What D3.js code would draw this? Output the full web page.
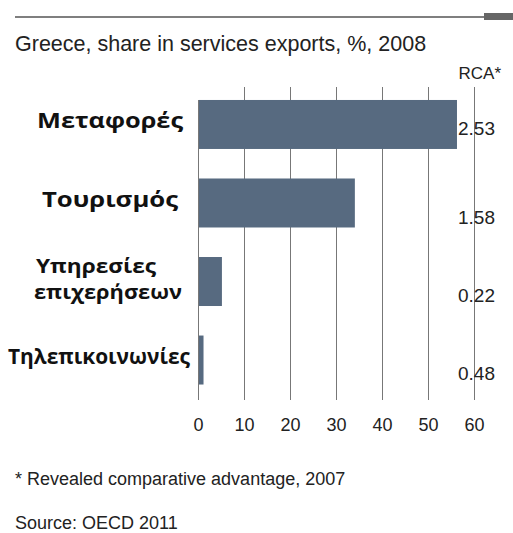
<!DOCTYPE html>
<html lang="en">
<head>
    <meta charset="utf-8">
    <style>
        body { margin: 0; background: white; }
        svg { display: block; }
        .title, .note, .tick text, .rca { font-family: "Liberation Sans", Arial, sans-serif; fill: #222; }
        .cat { font-family: "Open Sans", sans-serif; font-weight: bold; fill: #111; }
    </style>
    <script src="https://d3js.org/d3.v7.min.js"></script>
</head>
<body>
    <svg id="chart" width="513" height="533"></svg>

    <script>
        // Data
        const categories = [["Μεταφορές"], ["Τουρισμός"], ["Υπηρεσίες", "επιχερήσεων"], ["Τηλεπικοινωνίες"]];
        const shares = [56.3, 34.1, 5.2, 1.2];
        const rcaLabels = ["2.53", "1.58", "0.22", "0.48"];
        const xTicks = [0, 10, 20, 30, 40, 50, 60];

        const svg = d3.select("#chart");

        const x = d3.scaleLinear().domain([0, 60]).range([198, 474]);
        const y = d3.scaleBand().domain(d3.range(categories.length)).range([90, 394.5]).paddingInner(0.376).paddingOuter(0.127);

        // top rule
        svg.append("line").attr("x1", 15).attr("x2", 484).attr("y1", 17).attr("y2", 17)
            .attr("stroke", "#555").attr("stroke-width", 1.5);
        svg.append("rect").attr("x", 484).attr("y", 13).attr("width", 29).attr("height", 7).attr("fill", "#666");

        svg.append("text").attr("class", "title").attr("x", 15).attr("y", 51)
            .style("font-size", "21.5px").text("Greece, share in services exports, %, 2008");
        svg.append("text").attr("class", "title").attr("x", 501).attr("y", 79)
            .attr("text-anchor", "end").style("font-size", "17px").text("RCA*");

        // grid / axis
        const axis = d3.axisBottom(x).tickValues(xTicks).tickSize(313).tickFormat(d3.format("d"));
        const gAxis = svg.append("g").attr("transform", "translate(0,87)").call(axis);
        gAxis.select(".domain").remove();
        gAxis.selectAll(".tick line").attr("stroke", "#777").attr("stroke-width", 1)
            .attr("y1", d => d === 0 ? 13 : 0);
        gAxis.selectAll(".tick text").attr("y", 331).style("font-size", "18px").attr("fill", "#222");

        // bars
        svg.append("g").selectAll("rect").data(shares).join("rect")
            .attr("x", x(0) + 1)
            .attr("y", (d, i) => y(i))
            .attr("width", d => x(d) - x(0) - 1)
            .attr("height", y.bandwidth())
            .attr("fill", "#576a80");

        // RCA values
        const rcaY = [128, 217, 295, 373];
        svg.append("g").selectAll("text").data(rcaLabels).join("text")
            .attr("class", "rca")
            .attr("x", 458)
            .attr("y", (d, i) => rcaY[i] + 7)
            .style("font-size", "19px")
            .text(d => d);

        // category labels (left edge and width matched to the reference)
        const catLeft = [[37], [42], [36, 34], [8]];
        const catWidths = [[146], [136], [120, 148], [182]];
        const catG = svg.append("g");
        categories.forEach((lines, i) => {
            const cy = y(i) + y.bandwidth() / 2;
            const multi = lines.length > 1;
            lines.forEach((ln, j) => {
                catG.append("text").attr("class", "cat")
                    .style("font-size", multi ? "20px" : "22px")
                    .attr("x", catLeft[i][j])
                    .attr("y", cy + 4 + (j - (lines.length - 1) / 2) * 26)
                    .attr("textLength", catWidths[i][j])
                    .attr("lengthAdjust", "spacingAndGlyphs")
                    .text(ln);
            });
        });

        // footnotes
        svg.append("text").attr("class", "note").attr("x", 15).attr("y", 485)
            .style("font-size", "18px").text("* Revealed comparative advantage, 2007");
        svg.append("text").attr("class", "note").attr("x", 15).attr("y", 529)
            .style("font-size", "18px").text("Source: OECD 2011");
    </script>
</body>
</html>
